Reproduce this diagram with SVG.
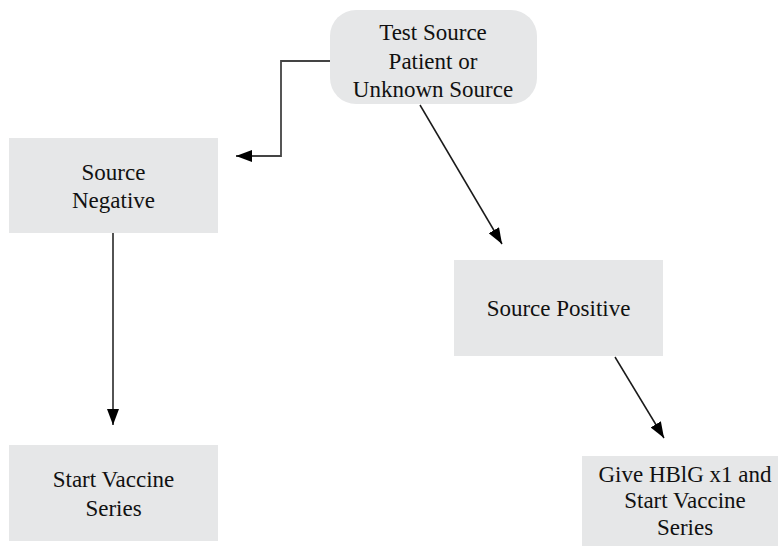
<svg xmlns="http://www.w3.org/2000/svg" width="779" height="546" viewBox="0 0 779 546">
<defs>
<style>
.box{fill:#e6e7e8;stroke:none}
.t{font-family:"Liberation Serif","Times New Roman",serif;font-size:23px;fill:#111;text-anchor:middle}
.c{fill:none;stroke:#1a1a1a;stroke-width:1.5}
.e{fill:none;stroke:#444;stroke-width:1.8}
</style>
<marker id="ah" viewBox="0 0 16 12" refX="16" refY="6" markerWidth="16" markerHeight="12" markerUnits="userSpaceOnUse" orient="auto">
<path d="M0,0 L16,6 L0,12 z" fill="#000"/>
</marker>
</defs>
<rect width="779" height="546" fill="#fff"/>
<g id="connectors">
<polyline class="e" points="331,61 281,61 281,156 236,156" marker-end="url(#ah)"/>
<line class="c" x1="420" y1="105" x2="502" y2="244" marker-end="url(#ah)"/>
<line class="c" x1="113" y1="233" x2="113" y2="425" marker-end="url(#ah)"/>
<line class="c" x1="615" y1="357" x2="664" y2="438" marker-end="url(#ah)"/>
</g>
<g id="test-source">
<rect class="box" x="330" y="10" width="207" height="94" rx="26" ry="26"/>
<text class="t" x="433" y="40">Test Source</text>
<text class="t" x="433" y="69">Patient or</text>
<text class="t" x="433" y="97">Unknown Source</text>
</g>
<g id="source-negative">
<rect class="box" x="9" y="138" width="209" height="95"/>
<text class="t" x="113.5" y="180">Source</text>
<text class="t" x="113.5" y="208">Negative</text>
</g>
<g id="source-positive">
<rect class="box" x="454" y="260" width="209" height="96"/>
<text class="t" x="558.5" y="316">Source Positive</text>
</g>
<g id="start-vaccine">
<rect class="box" x="9" y="445" width="209" height="96"/>
<text class="t" x="113.5" y="487">Start Vaccine</text>
<text class="t" x="113.5" y="516">Series</text>
</g>
<g id="give-hbig">
<rect class="box" x="582" y="456" width="196" height="90"/>
<text class="t" x="685" y="482">Give HBlG x1 and</text>
<text class="t" x="685" y="508">Start Vaccine</text>
<text class="t" x="685" y="535">Series</text>
</g>
</svg>
